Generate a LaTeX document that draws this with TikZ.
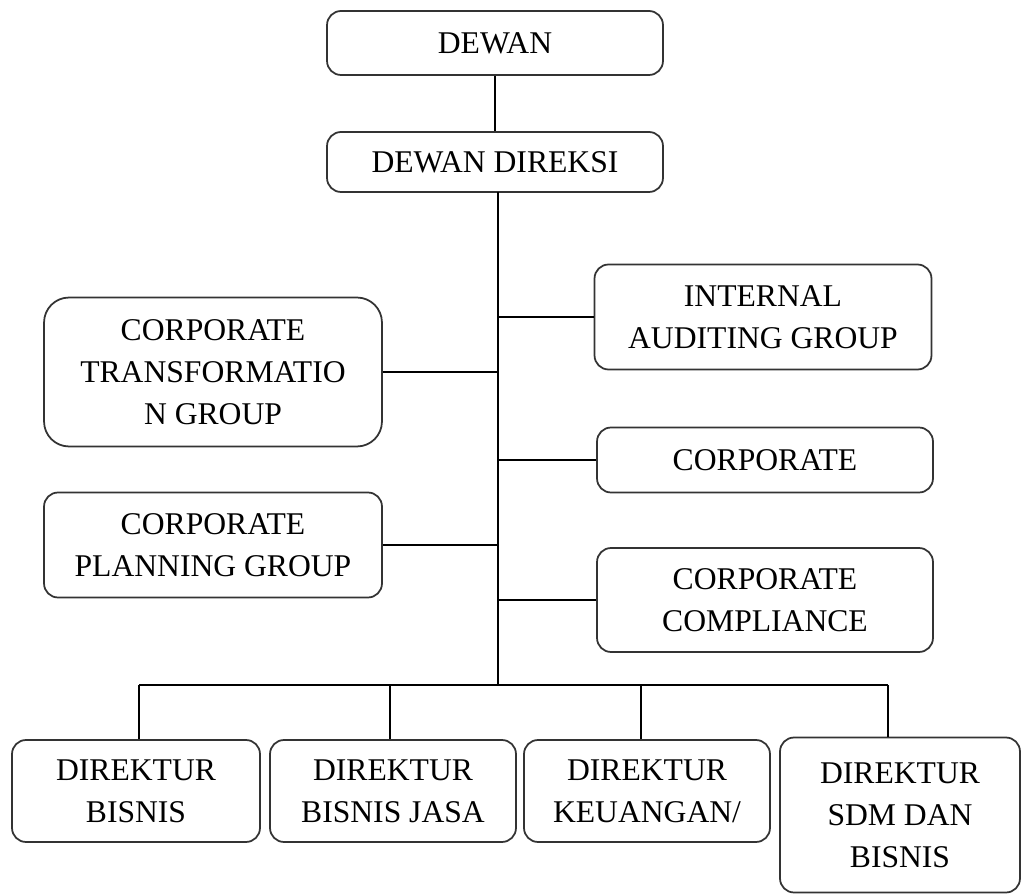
\documentclass[tikz,border=0pt]{standalone}
\usepackage{fontspec}
\setmainfont{Liberation Serif}

\begin{document}
\begin{tikzpicture}[x=0.02cm, y=-0.02cm,
                    unit/.style={draw=black!80, line width=1pt,
                                 rounded corners=0.28cm, align=center,
                                 inner sep=0pt, fill=white,
                                 font=\fontsize{18}{24}\selectfont},
                    link/.style={line width=0.8pt}]
\useasboundingbox (0,0) rectangle (1022,895);

% top of the chart
\node[unit, minimum width=6.72cm, minimum height=1.28cm] (dewan) at (495,43) {DEWAN};
\node[unit, minimum width=6.72cm, minimum height=1.2cm] (direksi) at (495,162) {DEWAN DIREKSI};

% staff units beside the trunk
\node[unit, minimum width=6.74cm, minimum height=2.1cm] (audit) at (763,317) {INTERNAL\\AUDITING GROUP};
\node[unit, minimum width=6.76cm, minimum height=2.98cm, rounded corners=0.5cm] (transf) at (213,372) {CORPORATE\\TRANSFORMATIO\\N GROUP};
\node[unit, minimum width=6.72cm, minimum height=1.3cm] (corp) at (765,460) {CORPORATE};
\node[unit, minimum width=6.76cm, minimum height=2.1cm] (plan) at (213,545) {CORPORATE\\PLANNING GROUP};
\node[unit, minimum width=6.72cm, minimum height=2.08cm] (compl) at (765,600) {CORPORATE\\COMPLIANCE};

% directors
\foreach \i/\x/\y/\w/\h/\lbl in {1/136/791/4.96/2.04/{DIREKTUR\\BISNIS},
                                 2/393/791/4.92/2.04/{DIREKTUR\\BISNIS JASA},
                                 3/647/791/4.92/2.04/{DIREKTUR\\KEUANGAN/},
                                 4/900/815/4.8/3.1/{DIREKTUR\\SDM DAN\\BISNIS}}
    {\node[unit, minimum width=\w cm, minimum height=\h cm] (dir\i) at (\x,\y) {\lbl};}

% trunk and branches
\coordinate (top) at (498,192);
\coordinate (bus) at (498,685);
\draw[link] (dewan) -- (direksi);
\draw[link] (top) -- (bus);
\foreach \n in {audit,transf,corp,plan,compl}
    \draw[link] (\n) -- (\n -| bus);

% bus to the directors
\foreach \i/\x in {1/139,2/390,3/641,4/888}
    \coordinate (drop\i) at (\x,685);
\draw[link] (drop1) -- (drop4);
\foreach \i in {1,...,4}
    \draw[link] (drop\i) -- (drop\i |- dir\i.north);
\end{tikzpicture}
\end{document}
